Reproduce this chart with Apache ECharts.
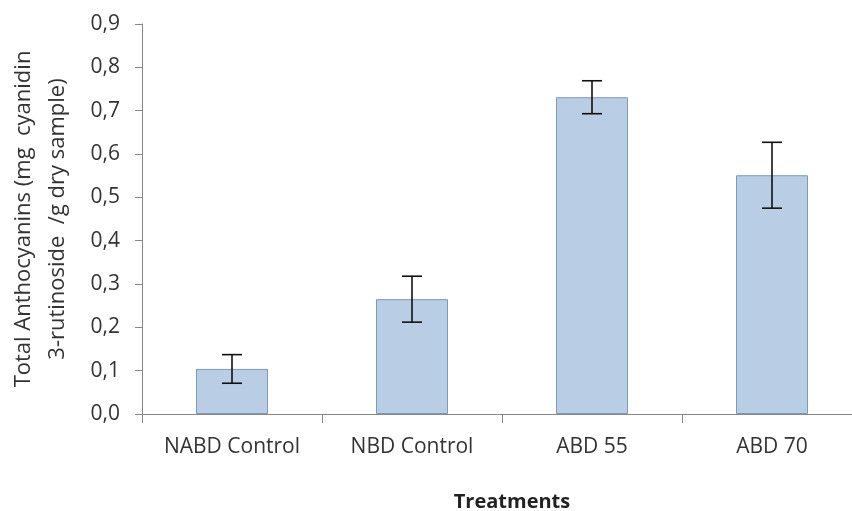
<!DOCTYPE html>
<html>
<head>
<meta charset="utf-8">
<script src="https://cdn.jsdelivr.net/npm/echarts@6/dist/echarts.min.js"></script>
<style>html,body{margin:0;padding:0;background:#fff;}#c{width:852px;height:511px;}</style>
</head>
<body>
<div id="c"></div>
<script>
const categories = ['NABD Control', 'NBD Control', 'ABD 55', 'ABD 70'];
const values = [0.104, 0.265, 0.731, 0.551];
const errors = [0.033, 0.053, 0.038, 0.076];
const yTicks = [0, 0.1, 0.2, 0.3, 0.4, 0.5, 0.6, 0.7, 0.8, 0.9];

const FONT = '"Open Sans"';
const chart = echarts.init(document.getElementById('c'), null, {renderer: 'canvas'});
chart.setOption({
  animation: false,
  backgroundColor: '#fff',
  grid: {left: 142, right: -10, top: 24, bottom: 97, containLabel: false, outerBoundsMode: 'none'},
  xAxis: {
    type: 'category',
    data: categories,
    axisLine: {lineStyle: {color: '#868686', width: 1}},
    axisTick: {show: true, length: 9, lineStyle: {color: '#868686'}},
    axisLabel: {color: '#333', fontFamily: FONT, fontSize: 21, margin: 23},
    name: 'Treatments',
    nameLocation: 'middle',
    nameGap: 78,
    nameTextStyle: {color: '#222', fontFamily: FONT, fontSize: 20, fontWeight: 'bold', padding: [0, 0, 0, 20]}
  },
  yAxis: {
    type: 'value',
    min: yTicks[0],
    max: yTicks[yTicks.length - 1],
    interval: 0.1,
    splitLine: {show: false},
    axisLine: {show: true, lineStyle: {color: '#868686', width: 1}},
    axisTick: {show: true, length: 7, lineStyle: {color: '#868686'}},
    axisLabel: {color: '#333', fontFamily: FONT, fontSize: 21, margin: 22,
      formatter: v => v.toFixed(1).replace('.', ',')},
    name: 'Total Anthocyanins (mg  cyanidin\n3-rutinoside  /g dry sample)',
    nameLocation: 'middle',
    nameGap: 67,
    nameTextStyle: {color: '#333', fontFamily: FONT, fontSize: 22, lineHeight: 34}
  },
  series: [
    {
      type: 'bar',
      data: values,
      barWidth: '40%',
      itemStyle: {color: '#b9cde5', borderColor: '#7d99bb', borderWidth: 1}
    },
    {
      type: 'custom',
      data: values.map((v, i) => [i, v - errors[i], v + errors[i]]),
      renderItem: function (params, api) {
        const x = api.value(0);
        const lo = api.coord([x, api.value(1)]);
        const hi = api.coord([x, api.value(2)]);
        const hw = 10;
        const style = {stroke: '#111', lineWidth: 1.6};
        return {
          type: 'group',
          children: [
            {type: 'line', shape: {x1: lo[0], y1: lo[1], x2: hi[0], y2: hi[1]}, style},
            {type: 'line', shape: {x1: lo[0] - hw, y1: lo[1], x2: lo[0] + hw, y2: lo[1]}, style},
            {type: 'line', shape: {x1: hi[0] - hw, y1: hi[1], x2: hi[0] + hw, y2: hi[1]}, style}
          ]
        };
      },
      z: 10
    }
  ]
});
</script>
</body>
</html>
